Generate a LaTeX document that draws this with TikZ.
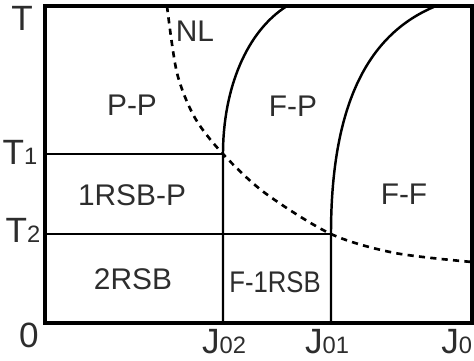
\documentclass[tikz,border=0pt]{standalone}
\usepackage{fontspec}
\setmainfont{Liberation Sans}
\definecolor{labelgray}{RGB}{45,45,45}
\newcommand{\sub}[1]{{\fontsize{13.5}{14}\selectfont #1}}

\begin{document}
\begin{tikzpicture}[x=0.02cm,y=0.02cm,
    phase/.style={font=\fontsize{17}{20}\selectfont,text=labelgray,inner sep=0pt},
    axislabel/.style={font=\fontsize{20}{24}\selectfont,text=labelgray,inner sep=0pt},
    border/.style={line width=1.9pt},
    boundary/.style={line width=1.4pt},
    nlline/.style={line width=1.5pt,dash pattern=on 3.5pt off 3pt}]
    \useasboundingbox (-45,-37) rectangle (429,323);

    \coordinate (O) at (0,0);
    \coordinate (top) at (427,317);
    \coordinate (t1) at (0,169);
    \coordinate (t2) at (0,89);
    \coordinate (j02) at (178,0);
    \coordinate (j01) at (286,0);
    \coordinate (c1) at (178,169);
    \coordinate (c2) at (286,89);
    \coordinate (f1) at (242,317);
    \coordinate (f2) at (391,317);

    \draw[border] (O) rectangle (top);
    \draw[boundary] (t1) -- (c1);
    \draw[boundary] (t2) -- (c2);
    \draw[boundary] (j02) -- (c1) .. controls (178,235) and (202,292) .. (f1);
    \draw[boundary] (j01) -- (c2) .. controls (286,230) and (330,292) .. (f2);
    \draw[nlline] plot[smooth] coordinates {(122,317) (132,250) (150,205) (178,169)
        (220,130) (286,89) (350,70) (427,61)};

    \node[axislabel] (lT) at (-23,305) {T};
    \node[axislabel] (lT1) at (-25,171) {T\sub{1}};
    \node[axislabel] (lT2) at (-22,93) {T\sub{2}};
    \node[axislabel] (l0) at (-16,-12) {0};
    \node[axislabel] (lJ02) at (179,-19) {J\sub{02}};
    \node[axislabel] (lJ01) at (282,-19) {J\sub{01}};
    \node[axislabel,anchor=west] (lJ0) at (396,-19) {J\sub{0}};

    \node[phase] (pp) at (87,218) {P-P};
    \node[phase] (nl) at (150,292) {NL};
    \node[phase] (fp) at (248,217) {F-P};
    \node[phase] (rp) at (87,128) {1RSB-P};
    \node[phase] (ff) at (359,129) {F-F};
    \node[phase] (rr) at (88,44) {2RSB};
    \node[phase] (fr) at (230,41) {\scalebox{0.86}[1]{F-1RSB}};
\end{tikzpicture}
\end{document}
